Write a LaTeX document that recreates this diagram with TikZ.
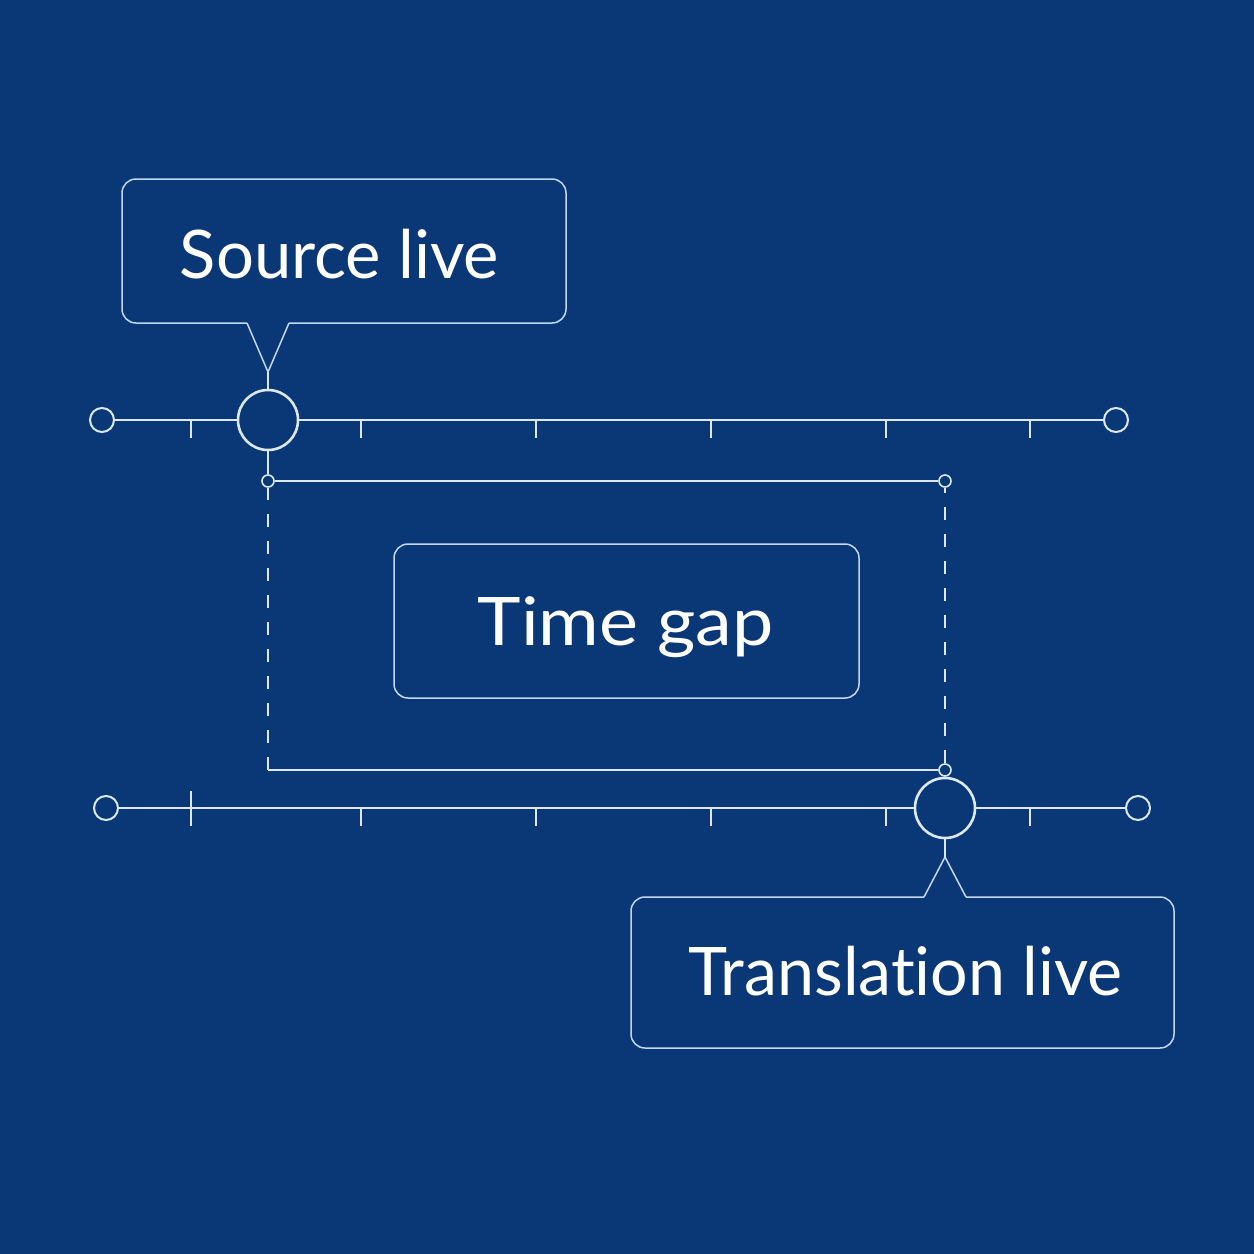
\documentclass[tikz,border=0pt]{standalone}
\usepackage{fontspec}
\setmainfont{Lato}[Ligatures={NoCommon}]
\usetikzlibrary{calc}
\definecolor{bg}{HTML}{0A3876}
\definecolor{ln}{HTML}{DCE8F8}
\definecolor{bx}{HTML}{C2D8F4}
\begin{document}
\begin{tikzpicture}[x=1pt,y=-1pt,
  line/.style={draw=ln,line width=1.6pt},
  boxline/.style={draw=bx,line width=1.5pt},
  endc/.style={circle,draw=ln,line width=2pt,minimum size=24pt,inner sep=0pt},
  bigc/.style={circle,draw=ln,line width=2.6pt,minimum size=60pt,inner sep=0pt},
  smallc/.style={circle,draw=ln,line width=1.6pt,minimum size=12pt,inner sep=0pt},
  lbl/.style={text=white,font=\fontsize{67}{80}\selectfont,inner sep=0pt,anchor=base},
  tickmark/.style={draw=ln,line width=1.6pt},
  dashline/.style={draw=ln,line width=1.8pt,dash pattern=on 13pt off 14pt}]
\fill[bg] (0,0) rectangle (1254,1254);
\useasboundingbox (0,0) rectangle (1254,1254);

% ---------- top timeline
\node[endc] (a1) at (102,420) {};
\node[endc] (a2) at (1116,420) {};
\node[bigc] (s) at (268,420) {};
\draw[line] (a1) -- (s);
\draw[line] (s) -- (a2);
\foreach \x in {191,361,536,711,886,1030}
  \draw[tickmark] (\x,420) -- (\x,438);

% ---------- bottom timeline
\node[endc] (b1) at (106,808) {};
\node[endc] (b2) at (1138,808) {};
\node[bigc] (t) at (945,808) {};
\draw[line] (b1) -- (t);
\draw[line] (t) -- (b2);
\draw[tickmark] (191,791) -- (191,826);
\foreach \x in {361,536,711,886,1030}
  \draw[tickmark] (\x,808) -- (\x,826);

% ---------- source callout
\node[lbl] (srclbl) at (339.5,278) {\scalebox{1.0}[1]{Source live}};
\coordinate (sNW) at (122,179);
\coordinate (sSE) at (566,323);
\coordinate (sapex) at (268,372);
\draw[boxline,rounded corners=14pt] (247,323) -- (sNW |- sSE) -- (sNW) -- (sSE |- sNW) -- (sSE) -- (289,323);
\draw[boxline] (247,323) -- (sapex) -- (289,323);
\draw[line] (sapex) -- (s.north);

% ---------- gap bracket
\node[smallc] (g1) at (268,481) {};
\node[smallc] (g2) at (945,481) {};
\node[smallc] (g3) at (945,770) {};
\coordinate (g0) at (268,770);
\draw[line] (s.south) -- (g1.north);
\draw[line] (g1) -- (g2);
\draw[line] (g0) -- (g3);
\draw[dashline] (g0) -- (g1.south);
\draw[dashline] (g3.north) -- (g2.south);

% ---------- time gap box
\node[boxline,rounded corners=14pt,minimum width=465pt,minimum height=154pt,inner sep=0pt] (gap) at (626.5,621) {};
\node[lbl] (gaplbl) at (625.5,645) {\scalebox{1.1}[1]{Time gap}};

% ---------- translation callout
\node[lbl] (trlbl) at (905.5,995) {\scalebox{0.99}[1]{Translation live}};
\coordinate (tNW) at (631,897);
\coordinate (tSE) at (1174,1048);
\coordinate (tapex) at (945,857);
\draw[boxline,rounded corners=14pt] (966,897) -- (tSE |- tNW) -- (tSE) -- (tNW |- tSE) -- (tNW) -- (924,897);
\draw[boxline] (924,897) -- (tapex) -- (966,897);
\draw[line] (t.south) -- (tapex);
\end{tikzpicture}
\end{document}
